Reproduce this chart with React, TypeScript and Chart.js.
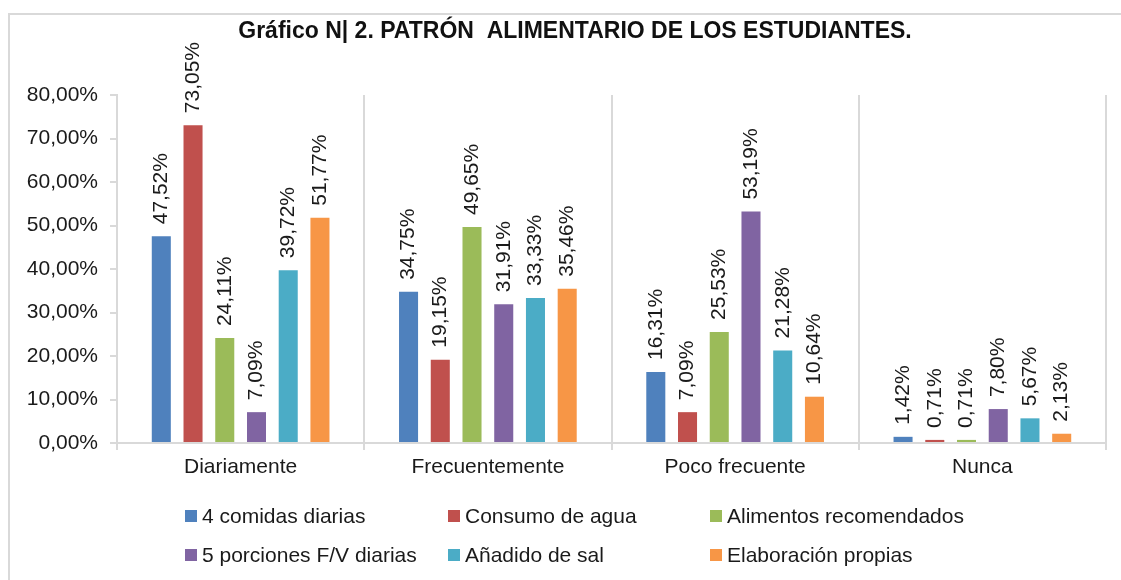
import React, { useEffect, useRef } from "react";
import { Chart, registerables } from "chart.js";

Chart.register(...registerables);

const categories = ["Diariamente", "Frecuentemente", "Poco frecuente", "Nunca"];
const comidas = [47.52, 34.75, 16.31, 1.42];
const agua = [73.05, 19.15, 7.09, 0.71];
const alimentos = [24.11, 49.65, 25.53, 0.71];
const porciones = [7.09, 31.91, 53.19, 7.8];
const sal = [39.72, 33.33, 21.28, 5.67];
const elaboracion = [51.77, 35.46, 10.64, 2.13];
const seriesLabels = [
  "4 comidas diarias",
  "Consumo de agua",
  "Alimentos recomendados",
  "5 porciones F/V diarias",
  "Añadido de sal",
  "Elaboración propias",
];
const seriesColors = ["#4F81BD", "#C0504D", "#9BBB59", "#8064A2", "#4BACC6", "#F79646"];
const titleText = "Gráfico N| 2. PATRÓN  ALIMENTARIO DE LOS ESTUDIANTES.";

const FONT = "'Liberation Sans', Arial, sans-serif";
const fmt = (v: number) => v.toFixed(2).replace(".", ",") + "%";

const decorPlugin = {
  id: "decor",
  beforeDraw(chart: any) {
    const ctx = chart.ctx;
    ctx.save();
    ctx.strokeStyle = "#d9d9d9";
    ctx.lineWidth = 2;
    ctx.strokeRect(9, 14, 1130, 580);
    ctx.restore();
  },
  afterDatasetsDraw(chart: any) {
    const ctx = chart.ctx;
    ctx.save();
    ctx.font = `21px ${FONT}`;
    ctx.fillStyle = "#1a1a1a";
    ctx.textAlign = "left";
    ctx.textBaseline = "middle";
    chart.data.datasets.forEach((ds: any, i: number) => {
      const meta = chart.getDatasetMeta(i);
      meta.data.forEach((el: any, j: number) => {
        ctx.save();
        ctx.translate(el.x, el.y - 12);
        ctx.rotate(-Math.PI / 2);
        ctx.fillText(fmt(ds.data[j]), 0, 0);
        ctx.restore();
      });
    });
    ctx.restore();
  },
  afterDraw(chart: any) {
    const ctx = chart.ctx;
    ctx.save();
    // title
    ctx.font = `bold 23px ${FONT}`;
    ctx.fillStyle = "#111";
    ctx.textAlign = "center";
    ctx.textBaseline = "middle";
    ctx.fillText(titleText, 575, 32);
    // legend
    const colX = [185, 448, 710];
    const rowY = [516, 555];
    ctx.font = `21px ${FONT}`;
    ctx.textAlign = "left";
    chart.data.datasets.forEach((ds: any, i: number) => {
      const cx = colX[i % 3];
      const cy = rowY[Math.floor(i / 3)];
      ctx.fillStyle = ds.backgroundColor;
      ctx.fillRect(cx, cy - 6, 12, 12);
      ctx.fillStyle = "#1a1a1a";
      ctx.fillText(ds.label, cx + 17, cy + 1);
    });
    ctx.restore();
  },
};

export default function App() {
  const ref = useRef<HTMLCanvasElement>(null);
  useEffect(() => {
    document.body.style.margin = "0";
    const seriesData = [comidas, agua, alimentos, porciones, sal, elaboracion];
    const chart = new Chart(ref.current!, {
      type: "bar",
      data: {
        labels: categories,
        datasets: seriesData.map((d, i) => ({
          label: seriesLabels[i],
          data: d,
          backgroundColor: seriesColors[i],
          barPercentage: 0.6,
          categoryPercentage: 0.77,
        })),
      },
      options: {
        animation: false,
        responsive: false,
        layout: { padding: { top: 95, right: 15, bottom: 80, left: 0 } },
        plugins: { legend: { display: false }, tooltip: { enabled: false }, title: { display: false } },
        scales: {
          x: {
            grid: { display: true, offset: true, drawOnChartArea: true, color: "#d9d9d9", lineWidth: 2, tickLength: 7 },
            border: { display: true, color: "#d9d9d9", width: 2 },
            ticks: { font: { family: FONT, size: 21 }, color: "#1a1a1a", padding: 5, maxRotation: 0 },
            afterFit: (s: any) => { s.height = 57; },
          },
          y: {
            min: 0,
            max: 80,
            grid: { drawOnChartArea: false, drawTicks: true, tickLength: 7, color: "#d9d9d9", lineWidth: 2 },
            border: { display: true, color: "#d9d9d9", width: 2 },
            ticks: {
              stepSize: 10,
              font: { family: FONT, size: 21 },
              color: "#1a1a1a",
              padding: 12,
              callback: (v: any) => fmt(Number(v)),
            },
            afterFit: (s: any) => { s.width = 117; },
          },
        },
      },
      plugins: [decorPlugin],
    });
    return () => chart.destroy();
  }, []);
  return (
    <div style={{ width: 1121, height: 580, background: "#fff" }}>
      <canvas ref={ref} width={1121} height={580} />
    </div>
  );
}
